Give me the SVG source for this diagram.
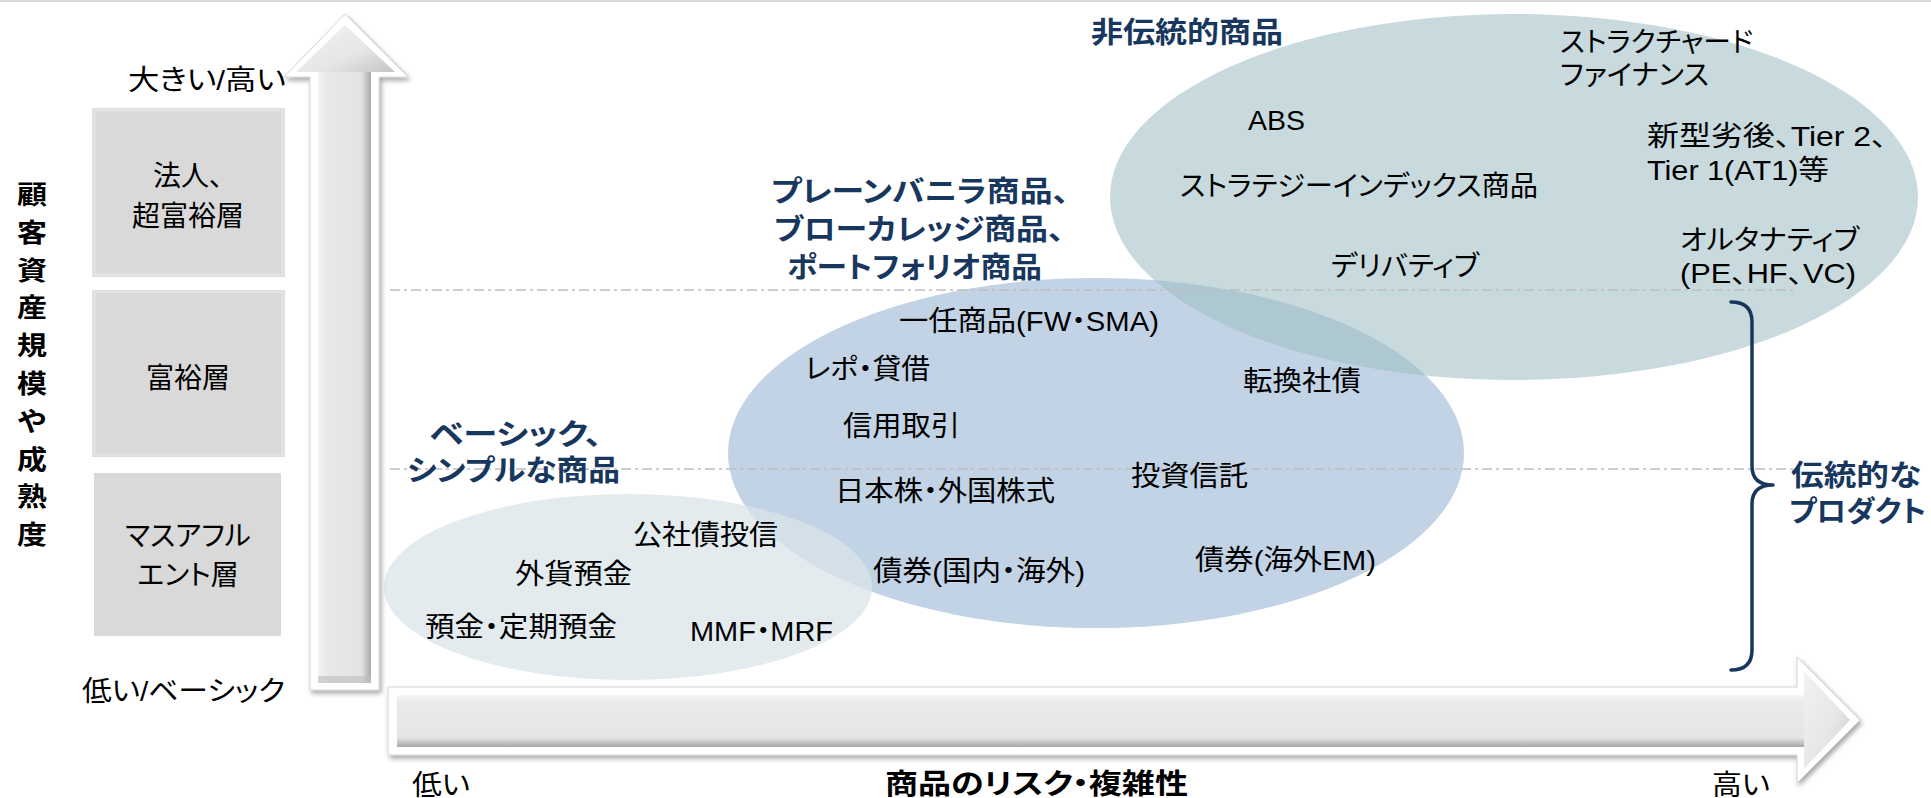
<svg xmlns="http://www.w3.org/2000/svg" width="1931" height="798" viewBox="0 0 1931 798">
  <defs>
    <style>
      .t { font-family: "Liberation Sans", "Noto Sans CJK JP", sans-serif; font-size: 28px; fill: #000; font-feature-settings: "palt"; }
      .nb { font-family: "Liberation Sans", "Noto Sans CJK JP", sans-serif; font-size: 29px; font-weight: bold; fill: #17375E; font-feature-settings: "palt"; }
      .kb { font-family: "Noto Sans CJK JP", sans-serif; font-size: 26px; font-weight: bold; fill: #000; }
      .box { fill: #D9D9D9; }
      .boxbev { fill: none; stroke: #E3E3E3; stroke-width: 3; }
      .guide { fill: none; stroke: #BFBFBF; stroke-width: 1.6; stroke-dasharray: 10 4 3 4; }
      .brace { fill: none; stroke: #17375E; stroke-width: 3.5; stroke-linecap: round; stroke-linejoin: round; }
      .outer { fill: #FFFFFF; stroke: #D4D4D4; stroke-width: 1; }
    </style>
    <filter id="shadow" x="-10%" y="-10%" width="130%" height="130%">
      <feDropShadow dx="2" dy="3" stdDeviation="2.5" flood-color="#000" flood-opacity="0.35"/>
    </filter>
    <linearGradient id="vgradShaft" x1="0" y1="0" x2="1" y2="0">
      <stop offset="0" stop-color="#F4F4F4"/>
      <stop offset="0.15" stop-color="#E9E9E9"/>
      <stop offset="0.82" stop-color="#E3E3E3"/>
      <stop offset="1" stop-color="#A9A9A9"/>
    </linearGradient>
    <linearGradient id="hgradShaft" x1="0" y1="0" x2="0" y2="1">
      <stop offset="0" stop-color="#F6F6F6"/>
      <stop offset="0.15" stop-color="#EAEAEA"/>
      <stop offset="0.82" stop-color="#E5E5E5"/>
      <stop offset="1" stop-color="#A6A6A6"/>
    </linearGradient>
    <linearGradient id="headGrad" x1="0" y1="0" x2="1" y2="1">
      <stop offset="0" stop-color="#F2F2F2"/>
      <stop offset="0.6" stop-color="#E6E6E6"/>
      <stop offset="1" stop-color="#C4C4C4"/>
    </linearGradient>
  </defs>

  <rect x="0" y="0" width="1931" height="798" fill="#FFFFFF"/>
  <rect x="0" y="0" width="1931" height="2" fill="#DADADA"/>

  <!-- product ellipses -->
  <g id="ellipse-traditional">
    <ellipse cx="1096" cy="453" rx="368" ry="175" fill="#C2D3E5"/>
  </g>
  <g id="ellipse-nontraditional">
    <ellipse cx="1514" cy="197" rx="404" ry="183" fill="#A1C0C5" fill-opacity="0.58"/>
  </g>
  <g id="ellipse-basic">
    <ellipse cx="628" cy="587" rx="244" ry="93" fill="#DAE4E8" fill-opacity="0.75"/>
  </g>

  <!-- guides / connectors -->
  <g id="connectors">
    <line class="guide" x1="390" y1="290" x2="1795" y2="290"/>
    <line class="guide" x1="390" y1="469" x2="1795" y2="469"/>
    <path class="brace" d="M1731,302 Q1752,302 1752,322 L1752,466 Q1752,485 1773,485 Q1752,485 1752,504 L1752,650 Q1752,670 1731,670"/>
  </g>

  <!-- axes -->
  <g id="axis-y">
    <path class="outer" filter="url(#shadow)" d="M345,14 L408,77 L379,77 L379,690 L310,690 L310,77 L284,77 Z"/>
    <path d="M345,25 L395,72 L371,72 L318,72 L296,72 Z" fill="url(#headGrad)"/>
    <rect x="318" y="72" width="53" height="611" fill="url(#vgradShaft)"/>
    <rect x="318" y="676" width="53" height="7" fill="#BDBDBD" opacity="0.6"/>
  </g>
  <g id="axis-x">
    <path class="outer" filter="url(#shadow)" d="M388,687 L1797,687 L1797,657 L1860,720 L1797,783 L1797,755 L388,755 Z"/>
    <rect x="397" y="695" width="1408" height="52" fill="url(#hgradShaft)"/>
    <path d="M1804,671 L1850,720 L1804,769 Z" fill="url(#headGrad)"/>
  </g>

  <!-- y-axis title -->
  <g id="title-y">
    <text class="kb" x="17" y="204" textLength="30" lengthAdjust="spacingAndGlyphs">顧</text>
    <text class="kb" x="17" y="241.8" textLength="30" lengthAdjust="spacingAndGlyphs">客</text>
    <text class="kb" x="17" y="279.6" textLength="30" lengthAdjust="spacingAndGlyphs">資</text>
    <text class="kb" x="17" y="317.4" textLength="30" lengthAdjust="spacingAndGlyphs">産</text>
    <text class="kb" x="17" y="355.2" textLength="30" lengthAdjust="spacingAndGlyphs">規</text>
    <text class="kb" x="17" y="393" textLength="30" lengthAdjust="spacingAndGlyphs">模</text>
    <text class="kb" x="17" y="430.8" textLength="30" lengthAdjust="spacingAndGlyphs">や</text>
    <text class="kb" x="17" y="468.6" textLength="30" lengthAdjust="spacingAndGlyphs">成</text>
    <text class="kb" x="17" y="506.4" textLength="30" lengthAdjust="spacingAndGlyphs">熟</text>
    <text class="kb" x="17" y="544.2" textLength="30" lengthAdjust="spacingAndGlyphs">度</text>
  </g>

  <g id="label-y-high"><text class="t" x="128" y="90" textLength="158" lengthAdjust="spacingAndGlyphs">大きい/高い</text></g>
  <g id="label-y-low"><text class="t" x="82" y="701" textLength="203" lengthAdjust="spacingAndGlyphs">低い/ベーシック</text></g>

  <!-- customer tiers -->
  <g id="tier-corporate">
    <rect class="box" x="92" y="108" width="193" height="169"/>
    <rect class="boxbev" x="94" y="110" width="189" height="165"/>
    <text class="t" x="188" y="186" text-anchor="middle">法人、</text>
    <text class="t" x="188" y="226" text-anchor="middle">超富裕層</text>
  </g>
  <g id="tier-affluent">
    <rect class="box" x="92" y="290" width="193" height="167"/>
    <rect class="boxbev" x="94" y="292" width="189" height="163"/>
    <text class="t" x="188" y="388" text-anchor="middle">富裕層</text>
  </g>
  <g id="tier-mass">
    <rect class="box" x="94" y="473" width="187" height="163"/>
    <text class="t" x="188" y="546" text-anchor="middle">マスアフル</text>
    <text class="t" x="188" y="585" text-anchor="middle">エント層</text>
  </g>

  <!-- basic products -->
  <g id="group-basic">
    <text class="nb" x="430" y="445" textLength="172" lengthAdjust="spacingAndGlyphs">ベーシック、</text>
    <text class="nb" x="407" y="481" textLength="213" lengthAdjust="spacingAndGlyphs">シンプルな商品</text>
    <text class="t" x="633" y="545" textLength="145" lengthAdjust="spacingAndGlyphs">公社債投信</text>
    <text class="t" x="515" y="584" textLength="117" lengthAdjust="spacingAndGlyphs">外貨預金</text>
    <text class="t" x="425" y="637" textLength="192" lengthAdjust="spacingAndGlyphs">預金・定期預金</text>
    <text class="t" x="690" y="641" textLength="143" lengthAdjust="spacingAndGlyphs">MMF・MRF</text>
  </g>

  <!-- plain vanilla products -->
  <g id="group-plain">
    <text class="nb" x="771" y="202" textLength="298" lengthAdjust="spacingAndGlyphs">プレーンバニラ商品、</text>
    <text class="nb" x="774" y="240" textLength="290" lengthAdjust="spacingAndGlyphs">ブローカレッジ商品、</text>
    <text class="nb" x="787" y="278" textLength="255" lengthAdjust="spacingAndGlyphs">ポートフォリオ商品</text>
    <text class="t" x="899" y="331" textLength="260" lengthAdjust="spacingAndGlyphs">一任商品(FW・SMA)</text>
    <text class="t" x="805" y="379" textLength="125" lengthAdjust="spacingAndGlyphs">レポ・貸借</text>
    <text class="t" x="1243" y="391" textLength="118" lengthAdjust="spacingAndGlyphs">転換社債</text>
    <text class="t" x="843" y="436" textLength="117" lengthAdjust="spacingAndGlyphs">信用取引</text>
    <text class="t" x="835" y="501" textLength="220" lengthAdjust="spacingAndGlyphs">日本株・外国株式</text>
    <text class="t" x="1131" y="486" textLength="117" lengthAdjust="spacingAndGlyphs">投資信託</text>
    <text class="t" x="873" y="581" textLength="212" lengthAdjust="spacingAndGlyphs">債券(国内・海外)</text>
    <text class="t" x="1195" y="570" textLength="181" lengthAdjust="spacingAndGlyphs">債券(海外EM)</text>
  </g>

  <!-- non-traditional products -->
  <g id="group-nontraditional">
    <text class="nb" x="1091" y="43" font-size="30" textLength="192" lengthAdjust="spacingAndGlyphs">非伝統的商品</text>
    <text class="t" x="1560" y="52" textLength="193" lengthAdjust="spacingAndGlyphs">ストラクチャード</text>
    <text class="t" x="1560" y="85" textLength="149" lengthAdjust="spacingAndGlyphs">ファイナンス</text>
    <text class="t" x="1248" y="130" textLength="57" lengthAdjust="spacingAndGlyphs">ABS</text>
    <text class="t" x="1647" y="146" textLength="240" lengthAdjust="spacingAndGlyphs">新型劣後、Tier 2、</text>
    <text class="t" x="1647" y="180" textLength="182" lengthAdjust="spacingAndGlyphs">Tier 1(AT1)等</text>
    <text class="t" x="1180" y="196" textLength="358" lengthAdjust="spacingAndGlyphs">ストラテジーインデックス商品</text>
    <text class="t" x="1331" y="276" textLength="148" lengthAdjust="spacingAndGlyphs">デリバティブ</text>
    <text class="t" x="1680" y="250" textLength="179" lengthAdjust="spacingAndGlyphs">オルタナティブ</text>
    <text class="t" x="1680" y="283" textLength="176" lengthAdjust="spacingAndGlyphs">(PE、HF、VC)</text>
  </g>

  <g id="label-traditional">
    <text class="nb" x="1791" y="486" textLength="130" lengthAdjust="spacingAndGlyphs">伝統的な</text>
    <text class="nb" x="1789" y="522" textLength="137" lengthAdjust="spacingAndGlyphs">プロダクト</text>
  </g>

  <!-- x-axis labels -->
  <g id="label-x">
    <text class="t" x="412" y="795" textLength="58" lengthAdjust="spacingAndGlyphs">低い</text>
    <text class="t" x="885" y="794" font-weight="bold" font-size="29" textLength="303" lengthAdjust="spacingAndGlyphs">商品のリスク・複雑性</text>
    <text class="t" x="1712" y="795" textLength="58" lengthAdjust="spacingAndGlyphs">高い</text>
  </g>
</svg>
